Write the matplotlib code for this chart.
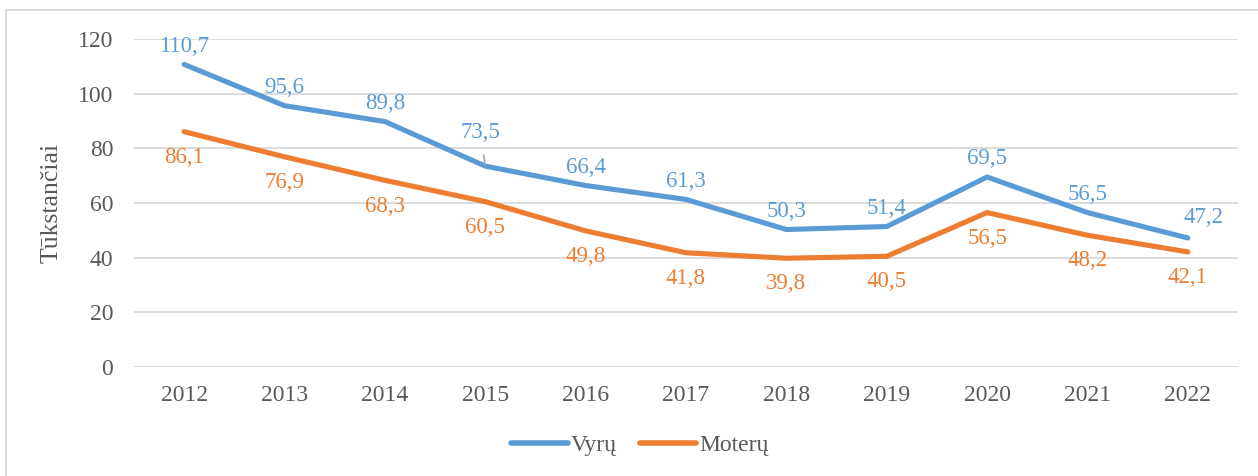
import matplotlib
matplotlib.use("Agg")
import matplotlib.pyplot as plt
from matplotlib.patches import Rectangle

years = ["2012", "2013", "2014", "2015", "2016", "2017", "2018", "2019", "2020", "2021", "2022"]
vyru = [110.7, 95.6, 89.8, 73.5, 66.4, 61.3, 50.3, 51.4, 69.5, 56.5, 47.2]
moteru = [86.1, 76.9, 68.3, 60.5, 49.8, 41.8, 39.8, 40.5, 56.5, 48.2, 42.1]
yticks = [0, 20, 40, 60, 80, 100, 120]

BLUE = "#5B9BD5"
ORANGE = "#ED7D31"
TEXT = "#595959"
GRID = "#D9D9D9"

plt.rcParams["font.family"] = ["Liberation Serif", "DejaVu Serif"]

W, H = 1258, 476
fig = plt.figure(figsize=(W / 100, H / 100), dpi=100)
fig.patch.set_facecolor("white")

# outer border
fig.add_artist(Rectangle((6 / W, -0.05), 1.2, (H - 10) / H + 0.05,
                         transform=fig.transFigure, fill=False,
                         edgecolor=GRID, linewidth=1.3))

ax = fig.add_axes([134 / W, 1 - 367 / H, (1238 - 134) / W, (367 - 39) / H])
x = list(range(len(years)))

ax.plot(x, vyru, color=BLUE, lw=3.7, solid_joinstyle="round",
        solid_capstyle="round", label="Vyrų", zorder=3)
ax.plot(x, moteru, color=ORANGE, lw=3.7, solid_joinstyle="round",
        solid_capstyle="round", label="Moterų", zorder=3)

ax.set_xlim(-0.5, len(years) - 0.5)
ax.set_ylim(0, 120)
ax.set_yticks(yticks)
ax.set_xticks(x)
ax.set_xticklabels(years)
ax.tick_params(axis="both", length=0, labelsize=17, colors=TEXT)
ax.tick_params(axis="y", pad=15)
ax.tick_params(axis="x", pad=13)
ax.grid(axis="y", color=GRID, lw=1.3)
ax.set_axisbelow(True)
for s in ax.spines.values():
    s.set_visible(False)

ax.set_ylabel("Tūkstančiai", fontsize=18.5, color=TEXT, labelpad=11)

fmt = lambda v: f"{v:.1f}".replace(".", ",")
blue_offsets = {"2015": (-3.5, 24.5), "2022": (11.5, 15)}
for i, v in enumerate(vyru):
    dx, dy = blue_offsets.get(years[i], (0, 13))
    props = None
    if years[i] == "2015":
        props = dict(arrowstyle="-", color="#A6A6A6", lw=1.2, shrinkA=7, shrinkB=1)
    ax.annotate(fmt(v), xy=(i, v), xytext=(dx, dy), textcoords="offset points",
                ha="center", va="center", fontsize=16.5, color=BLUE,
                arrowprops=props)
for i, v in enumerate(moteru):
    ax.annotate(fmt(v), xy=(i, v), xytext=(0, -18.5), textcoords="offset points",
                ha="center", va="center", fontsize=16.5, color=ORANGE)

leg = fig.legend(loc="center", bbox_to_anchor=(640 / W, 1 - 445 / H), ncol=2,
                 frameon=False, fontsize=17, handlelength=2.4, handletextpad=0.15,
                 columnspacing=0.95, labelcolor=TEXT)
for l in leg.get_lines():
    l.set_linewidth(4)

fig.savefig("out.png", dpi=100)
